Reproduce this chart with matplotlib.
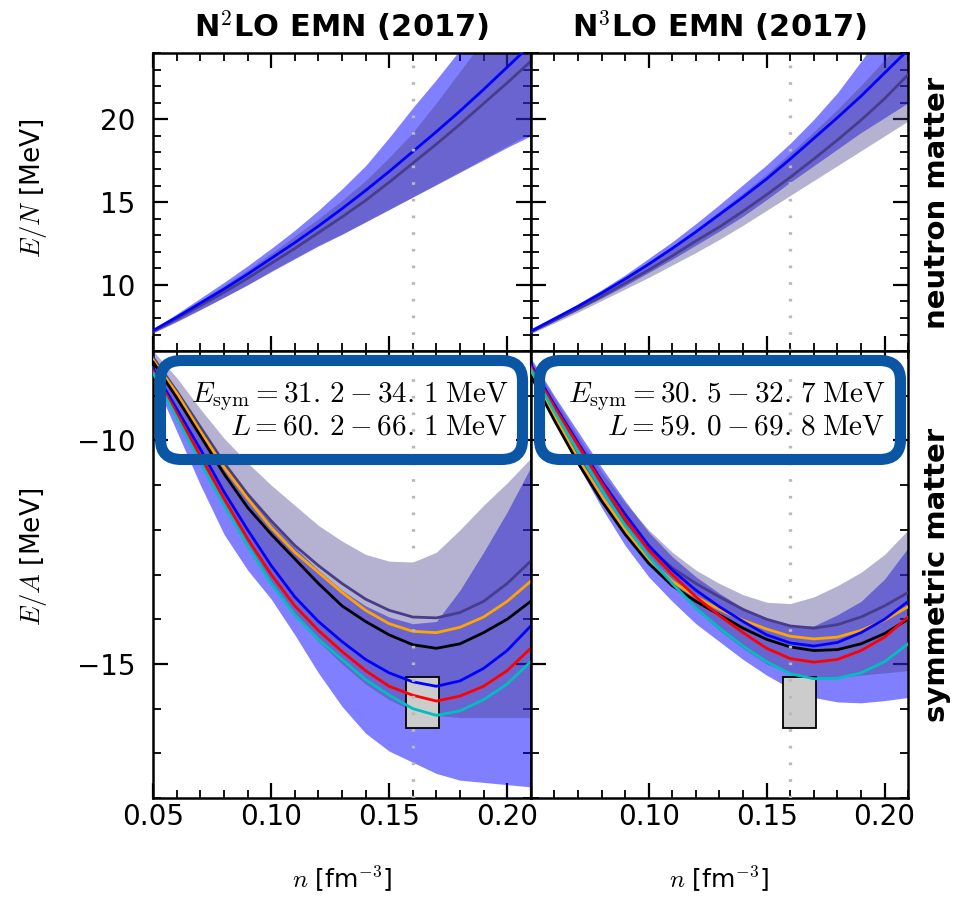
import numpy as np
import matplotlib
matplotlib.use('Agg')
import matplotlib.pyplot as plt
from matplotlib.patches import Rectangle, FancyBboxPatch
from matplotlib.ticker import MultipleLocator, FixedLocator

plt.rcParams['mathtext.fontset'] = 'cm'
plt.rcParams['font.family'] = 'DejaVu Sans'

# density grid [fm^-3]
dens = [0.05, 0.06, 0.07, 0.08, 0.09, 0.10, 0.11, 0.12, 0.13,
        0.14, 0.15, 0.16, 0.17, 0.18, 0.19, 0.20, 0.21]

# ---- neutron matter, N2LO ----
pnm2_blue = [7.25, 8.05, 8.9, 9.75, 10.65, 11.6, 12.55, 13.55, 14.6,
             15.7, 16.85, 18.05, 19.25, 20.5, 21.8, 23.15, 24.5]
pnm2_slate = [7.2, 7.95, 8.75, 9.55, 10.4, 11.3, 12.2, 13.15, 14.1,
              15.1, 16.2, 17.35, 18.5, 19.7, 20.95, 22.2, 23.5]
pnm2_blue_hi = [7.35, 8.25, 9.2, 10.15, 11.15, 12.2, 13.3, 14.5, 15.8,
                17.2, 18.9, 20.7, 22.4, 24.2, 26.0, 27.8, 29.6]
pnm2_blue_lo = [7.12, 7.8, 8.52, 9.25, 10.0, 10.8, 11.58, 12.35, 13.05,
                13.8, 14.55, 15.3, 16.05, 16.8, 17.55, 18.3, 19.0]
pnm2_slate_hi = [7.3, 8.15, 9.05, 9.95, 10.9, 11.9, 12.95, 14.0, 15.1,
                 16.3, 17.7, 19.2, 21.0, 22.9, 24.8, 26.7, 28.6]
pnm2_slate_lo = [7.1, 7.78, 8.5, 9.25, 10.02, 10.85, 11.62, 12.4, 13.08,
                 13.82, 14.57, 15.32, 16.08, 16.85, 17.62, 18.4, 19.15]

# ---- neutron matter, N3LO ----
pnm3_blue = [7.2, 7.95, 8.7, 9.5, 10.35, 11.25, 12.2, 13.2, 14.25,
             15.3, 16.4, 17.6, 18.85, 20.1, 21.4, 22.8, 24.2]
pnm3_slate = [7.15, 7.85, 8.55, 9.3, 10.1, 10.9, 11.75, 12.65, 13.5,
              14.45, 15.45, 16.5, 17.6, 18.75, 19.95, 21.25, 22.7]
pnm3_blue_hi = [7.25, 8.05, 8.85, 9.7, 10.6, 11.6, 12.6, 13.7, 14.85,
                16.05, 17.25, 18.55, 20.0, 21.6, 23.5, 25.5, 27.5]
pnm3_blue_lo = [7.1, 7.8, 8.5, 9.2, 9.95, 10.75, 11.55, 12.4, 13.25,
                14.15, 15.15, 16.2, 17.2, 18.2, 19.2, 20.1, 21.0]
pnm3_slate_hi = [7.22, 7.98, 8.75, 9.55, 10.4, 11.3, 12.3, 13.35, 14.45,
                 15.55, 16.7, 17.95, 19.25, 20.6, 22.05, 23.6, 25.2]
pnm3_slate_lo = [7.05, 7.7, 8.35, 9.05, 9.75, 10.45, 11.2, 11.95, 12.75,
                 13.6, 14.5, 15.4, 16.3, 17.2, 18.1, 19.0, 19.9]

# ---- symmetric matter, N2LO ----
snm2_slate = [-8.15, -8.9, -9.7, -10.5, -11.2, -11.8, -12.35, -12.8, -13.2,
              -13.55, -13.8, -13.95, -13.97, -13.85, -13.6, -13.2, -12.7]
snm2_orange = [-8.2, -8.95, -9.8, -10.6, -11.3, -11.95, -12.5, -12.95, -13.4,
               -13.8, -14.1, -14.27, -14.3, -14.18, -13.95, -13.6, -13.15]
snm2_black = [-8.25, -9.05, -9.9, -10.75, -11.5, -12.1, -12.65, -13.2, -13.7,
              -14.05, -14.35, -14.57, -14.65, -14.55, -14.3, -14.0, -13.6]
snm2_blue = [-8.4, -9.3, -10.2, -11.15, -12.0, -12.8, -13.5, -14.05, -14.5,
             -14.9, -15.2, -15.4, -15.5, -15.38, -15.1, -14.7, -14.15]
snm2_red = [-8.45, -9.4, -10.35, -11.3, -12.2, -13.0, -13.7, -14.25, -14.72,
            -15.15, -15.5, -15.7, -15.83, -15.72, -15.5, -15.15, -14.65]
snm2_cyan = [-8.5, -9.5, -10.5, -11.45, -12.35, -13.2, -13.9, -14.45, -14.9,
             -15.35, -15.7, -16.0, -16.15, -16.05, -15.8, -15.45, -14.95]
snm2_blue_hi = [-8.1, -8.9, -9.7, -10.5, -11.2, -11.85, -12.4, -12.9, -13.35,
                -13.7, -13.95, -14.1, -14.05, -13.35, -12.5, -11.6, -10.6]
snm2_blue_lo = [-8.6, -9.8, -11.0, -12.1, -12.9, -13.55, -14.35, -15.2, -15.95,
                -16.55, -16.95, -17.2, -17.45, -17.6, -17.65, -17.7, -17.75]
snm2_slate_hi = [-8.0, -8.6, -9.3, -9.95, -10.5, -11.0, -11.45, -11.9, -12.25,
                 -12.55, -12.7, -12.72, -12.5, -12.0, -11.45, -10.95, -10.4]
snm2_slate_lo = [-8.5, -9.5, -10.5, -11.45, -12.35, -13.2, -13.9, -14.5, -15.0,
                 -15.45, -15.8, -16.05, -16.15, -16.2, -16.2, -16.2, -16.2]

# ---- symmetric matter, N3LO ----
snm3_slate = [-8.5, -9.4, -10.3, -11.1, -11.8, -12.4, -12.85, -13.2, -13.5,
              -13.78, -14.0, -14.15, -14.2, -14.12, -13.95, -13.7, -13.4]
snm3_orange = [-8.5, -9.45, -10.4, -11.25, -12.0, -12.65, -13.15, -13.5, -13.78,
               -14.02, -14.22, -14.38, -14.44, -14.4, -14.25, -14.02, -13.72]
snm3_black = [-8.55, -9.55, -10.5, -11.35, -12.1, -12.75, -13.25, -13.6, -13.9,
              -14.2, -14.45, -14.62, -14.7, -14.68, -14.55, -14.32, -14.0]
snm3_blue = [-8.3, -9.2, -10.05, -10.9, -11.65, -12.35, -12.9, -13.35, -13.72,
             -14.05, -14.35, -14.53, -14.6, -14.52, -14.3, -14.0, -13.6]
snm3_red = [-8.35, -9.25, -10.1, -10.95, -11.75, -12.45, -13.0, -13.5, -13.92,
            -14.3, -14.65, -14.88, -14.96, -14.9, -14.7, -14.4, -13.95]
snm3_cyan = [-8.4, -9.35, -10.25, -11.1, -11.9, -12.6, -13.2, -13.75, -14.2,
             -14.6, -14.95, -15.22, -15.33, -15.32, -15.2, -14.95, -14.55]
snm3_blue_hi = [-8.15, -9.0, -9.8, -10.6, -11.35, -12.05, -12.6, -13.05, -13.42,
                -13.75, -14.0, -14.15, -14.15, -13.9, -13.6, -13.1, -12.4]
snm3_blue_lo = [-8.45, -9.5, -10.55, -11.5, -12.35, -13.05, -13.6, -14.1, -14.5,
                -14.9, -15.25, -15.55, -15.75, -15.85, -15.87, -15.82, -15.75]
snm3_slate_hi = [-8.2, -9.05, -9.9, -10.7, -11.4, -12.0, -12.5, -12.9, -13.2,
                 -13.45, -13.62, -13.65, -13.5, -13.25, -12.95, -12.55, -12.0]
snm3_slate_lo = [-8.42, -9.38, -10.3, -11.15, -11.95, -12.65, -13.25, -13.78, -14.25,
                 -14.65, -15.0, -15.22, -15.3, -15.3, -15.25, -15.2, -15.15]

# saturation box
sat_n = [0.157, 0.171]
sat_e = [-16.43, -15.29]
n_sat_line = 0.16

titles = ['N$^2$LO EMN (2017)', 'N$^3$LO EMN (2017)']
esym_text = [r'$E_{\rm sym} = 31.\,2 - 34.\,1\;{\rm MeV}$' + '\n' + r'$L = 60.\,2 - 66.\,1\;{\rm MeV}$',
             r'$E_{\rm sym} = 30.\,5 - 32.\,7\;{\rm MeV}$' + '\n' + r'$L = 59.\,0 - 69.\,8\;{\rm MeV}$']

fig = plt.figure(figsize=(9.58, 9.0), dpi=100)
gs = fig.add_gridspec(2, 2, left=0.160, right=0.948, top=0.941, bottom=0.1133,
                      hspace=0, wspace=0, height_ratios=[2, 3])
axes = [[fig.add_subplot(gs[i, j]) for j in range(2)] for i in range(2)]


def style_axis(ax, ymajor):
    ax.set_xlim(0.05, 0.21)
    ax.xaxis.set_major_locator(FixedLocator([0.05, 0.10, 0.15, 0.20]))
    ax.xaxis.set_minor_locator(MultipleLocator(0.01))
    ax.yaxis.set_major_locator(MultipleLocator(ymajor))
    ax.yaxis.set_minor_locator(MultipleLocator(1))
    ax.tick_params(which='both', direction='in', top=True, right=True, labelsize=20)
    ax.tick_params(which='major', length=11, width=1.6)
    ax.tick_params(which='minor', length=5.5, width=1.3)
    ax.tick_params(axis='y', which='major', pad=13)
    for s in ax.spines.values():
        s.set_linewidth(1.8)
    ax.axvline(n_sat_line, color='0.72', lw=2.4, ls=(0, (0.8, 4.2)), zorder=4)


pnm_sets = [(pnm2_blue_lo, pnm2_blue_hi, pnm2_slate_lo, pnm2_slate_hi, pnm2_blue, pnm2_slate),
            (pnm3_blue_lo, pnm3_blue_hi, pnm3_slate_lo, pnm3_slate_hi, pnm3_blue, pnm3_slate)]
snm_sets = [(snm2_blue_lo, snm2_blue_hi, snm2_slate_lo, snm2_slate_hi,
             snm2_slate, snm2_orange, snm2_black, snm2_blue, snm2_red, snm2_cyan),
            (snm3_blue_lo, snm3_blue_hi, snm3_slate_lo, snm3_slate_hi,
             snm3_slate, snm3_orange, snm3_black, snm3_blue, snm3_red, snm3_cyan)]

for j in range(2):
    # neutron matter
    ax = axes[0][j]
    blo, bhi, slo, shi, bl, sl = pnm_sets[j]
    ax.fill_between(dens, blo, bhi, color='blue', alpha=0.5, lw=0, zorder=2)
    ax.fill_between(dens, slo, shi, color='darkslateblue', alpha=0.4, lw=0, zorder=2)
    ax.plot(dens, sl, color='darkslateblue', lw=2, zorder=3)
    ax.plot(dens, bl, color='blue', lw=2, zorder=3)
    style_axis(ax, 5)
    ax.set_ylim(6, 24)
    ax.tick_params(labelbottom=False)
    ax.set_title(titles[j], fontsize=22, fontweight='bold', pad=12)

    # symmetric matter
    ax = axes[1][j]
    blo, bhi, slo, shi, sl, orl, bkl, bll, rdl, cyl = snm_sets[j]
    ax.fill_between(dens, blo, bhi, color='blue', alpha=0.5, lw=0, zorder=2)
    ax.fill_between(dens, slo, shi, color='darkslateblue', alpha=0.4, lw=0, zorder=2)
    ax.add_patch(Rectangle((sat_n[0], sat_e[0]), sat_n[1] - sat_n[0], sat_e[1] - sat_e[0],
                           fc='0.8', ec='k', lw=1.3, zorder=2.5))
    ax.plot(dens, sl, color='darkslateblue', lw=2, zorder=3)
    ax.plot(dens, orl, color='orange', lw=2, zorder=3)
    ax.plot(dens, bkl, color='k', lw=2, zorder=3)
    ax.plot(dens, bll, color='blue', lw=2, zorder=3)
    ax.plot(dens, rdl, color='r', lw=2, zorder=3)
    ax.plot(dens, cyl, color='c', lw=2, zorder=3)
    style_axis(ax, 5)
    ax.set_ylim(-18, -8)
    ax.set_xlabel(r'$n$ [fm$^{-3}$]', fontsize=18, labelpad=24)
    ax.text(0.94, 0.935, esym_text[j], transform=ax.transAxes, ha='right', va='top',
            fontsize=21, linespacing=1.0, zorder=3.5)

axes[0][0].set_ylabel('$E/N$ [MeV]', fontsize=19)
axes[1][0].set_ylabel('$E/A$ [MeV]', fontsize=19)
axes[0][0].yaxis.set_label_coords(-0.275, 0.545)
axes[1][0].yaxis.set_label_coords(-0.275, 0.54)
axes[1][0].set_xticklabels(['0.05', '0.10', '0.15', '0.20'])
axes[1][1].set_xticklabels(['', '0.10', '0.15', '0.20'])
for i in range(2):
    axes[i][1].tick_params(labelleft=False)

# highlight frames around the symmetry energy boxes
for x0, x1 in [(160.5, 522.5), (539.5, 900.5)]:
    frame = FancyBboxPatch((x0 / 958, 1 - 459.5 / 900), (x1 - x0) / 958, 99 / 900,
                           boxstyle='round,pad=0,rounding_size=0.022',
                           transform=fig.transFigure, fc='none', ec='#0a56a5',
                           lw=8, zorder=10, clip_on=False)
    fig.add_artist(frame)

fig.text(0.978, 0.775, 'neutron matter', rotation=90, ha='center', va='center',
         fontsize=21, fontweight='bold')
fig.text(0.978, 0.361, 'symmetric matter', rotation=90, ha='center', va='center',
         fontsize=21, fontweight='bold')

fig.savefig('out.png', dpi=100)
